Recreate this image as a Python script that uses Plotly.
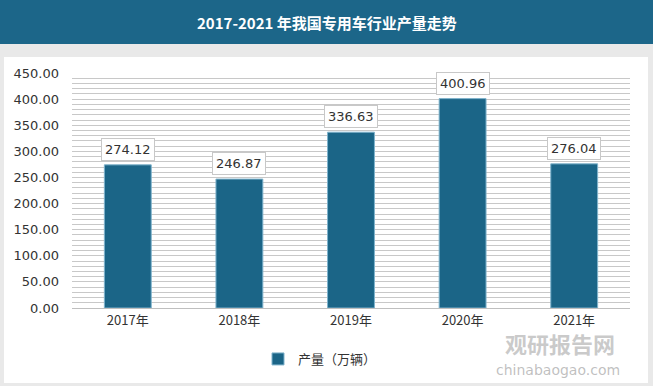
import plotly.graph_objects as go

categories = ["2017年", "2018年", "2019年", "2020年", "2021年"]
values = [274.12, 246.87, 336.63, 400.96, 276.04]
y_ticks = [0, 50, 100, 150, 200, 250, 300, 350, 400, 450]
series_name = "产量（万辆）"
title = "2017-2021 年我国专用车行业产量走势"

W, H = 653, 386
L, R, T, B = 72, 23, 73, 78
PW, PH = W - L - R, H - T - B
font_cn = "Noto Sans CJK SC"


def px(x):
    return (x - L) / PW


def py(y):
    return (H - B - y) / PH


fig = go.Figure()
fig.add_trace(go.Bar(
    x=categories, y=values, name=series_name,
    marker=dict(color="#1b6587", line=dict(color="#7fb3cc", width=1)),
    width=0.42, showlegend=True,
))

annotations = []
for c, v in zip(categories, values):
    annotations.append(dict(
        x=c, y=v, xref="x", yref="y", text=f"{v:.2f}", showarrow=False,
        yanchor="bottom", yshift=4, font=dict(family="DejaVu Sans", size=13, color="#333333"),
        bgcolor="white", bordercolor="#c8c8c8", borderwidth=1, borderpad=3,
    ))
annotations.append(dict(
    x=0.5 * (px(0) + px(W)), y=py(22), xref="paper", yref="paper", xanchor="center", yanchor="middle",
    text="<b>" + title + "</b>", showarrow=False,
    font=dict(family=font_cn, size=15, color="white"),
))
# watermark
annotations.append(dict(x=px(560), y=py(343), xref="paper", yref="paper",
                        text="<b>观研报告网</b>", showarrow=False, xanchor="center", yanchor="middle",
                        font=dict(family=font_cn, size=22, color="rgba(150,150,150,0.5)")))
annotations.append(dict(x=px(558), y=py(370), xref="paper", yref="paper",
                        text="chinabaogao.com", showarrow=False, xanchor="center", yanchor="middle",
                        font=dict(family="DejaVu Sans", size=14, color="rgba(150,150,150,0.6)")))

shapes = [
    dict(type="rect", xref="paper", yref="paper", x0=px(0), x1=px(W),
         y0=py(44), y1=py(0), fillcolor="#1c6689", line=dict(width=0), layer="below"),
    dict(type="rect", xref="paper", yref="paper", x0=px(4), x1=px(648),
         y0=py(383), y1=py(57), fillcolor="white", line=dict(width=0), layer="below"),
]

fig.update_layout(
    width=W, height=H,
    margin=dict(l=L, r=R, t=T, b=B, pad=0),
    paper_bgcolor="#e9e9e9", plot_bgcolor="white",
    font=dict(family=font_cn, size=13, color="#333333"),
    bargap=0.58,
    xaxis=dict(showgrid=False, showline=True, linecolor="#bfbfbf", ticks="",
               tickfont=dict(family=font_cn, size=13, color="#333333")),
    yaxis=dict(range=[0, 450], tickvals=y_ticks, ticktext=[f"{t:.2f}" for t in y_ticks],
               showgrid=True, gridcolor="#c8c8c8", gridwidth=1, zeroline=False,
               minor=dict(dtick=10, showgrid=True, gridcolor="#c8c8c8", gridwidth=1),
               tickfont=dict(family="DejaVu Sans", size=13, color="#333333"), ticks="", ticklabelstandoff=12),
    legend=dict(orientation="h", x=px(258), y=py(344),
                xanchor="left", yanchor="top", bgcolor="white", itemwidth=30,
                font=dict(family=font_cn, size=13, color="#333333")),
    annotations=annotations, shapes=shapes,
)

fig.write_html("out.html", config={"displayModeBar": False},
               post_script="document.body.style.margin='0px';document.body.style.overflow='hidden';")
